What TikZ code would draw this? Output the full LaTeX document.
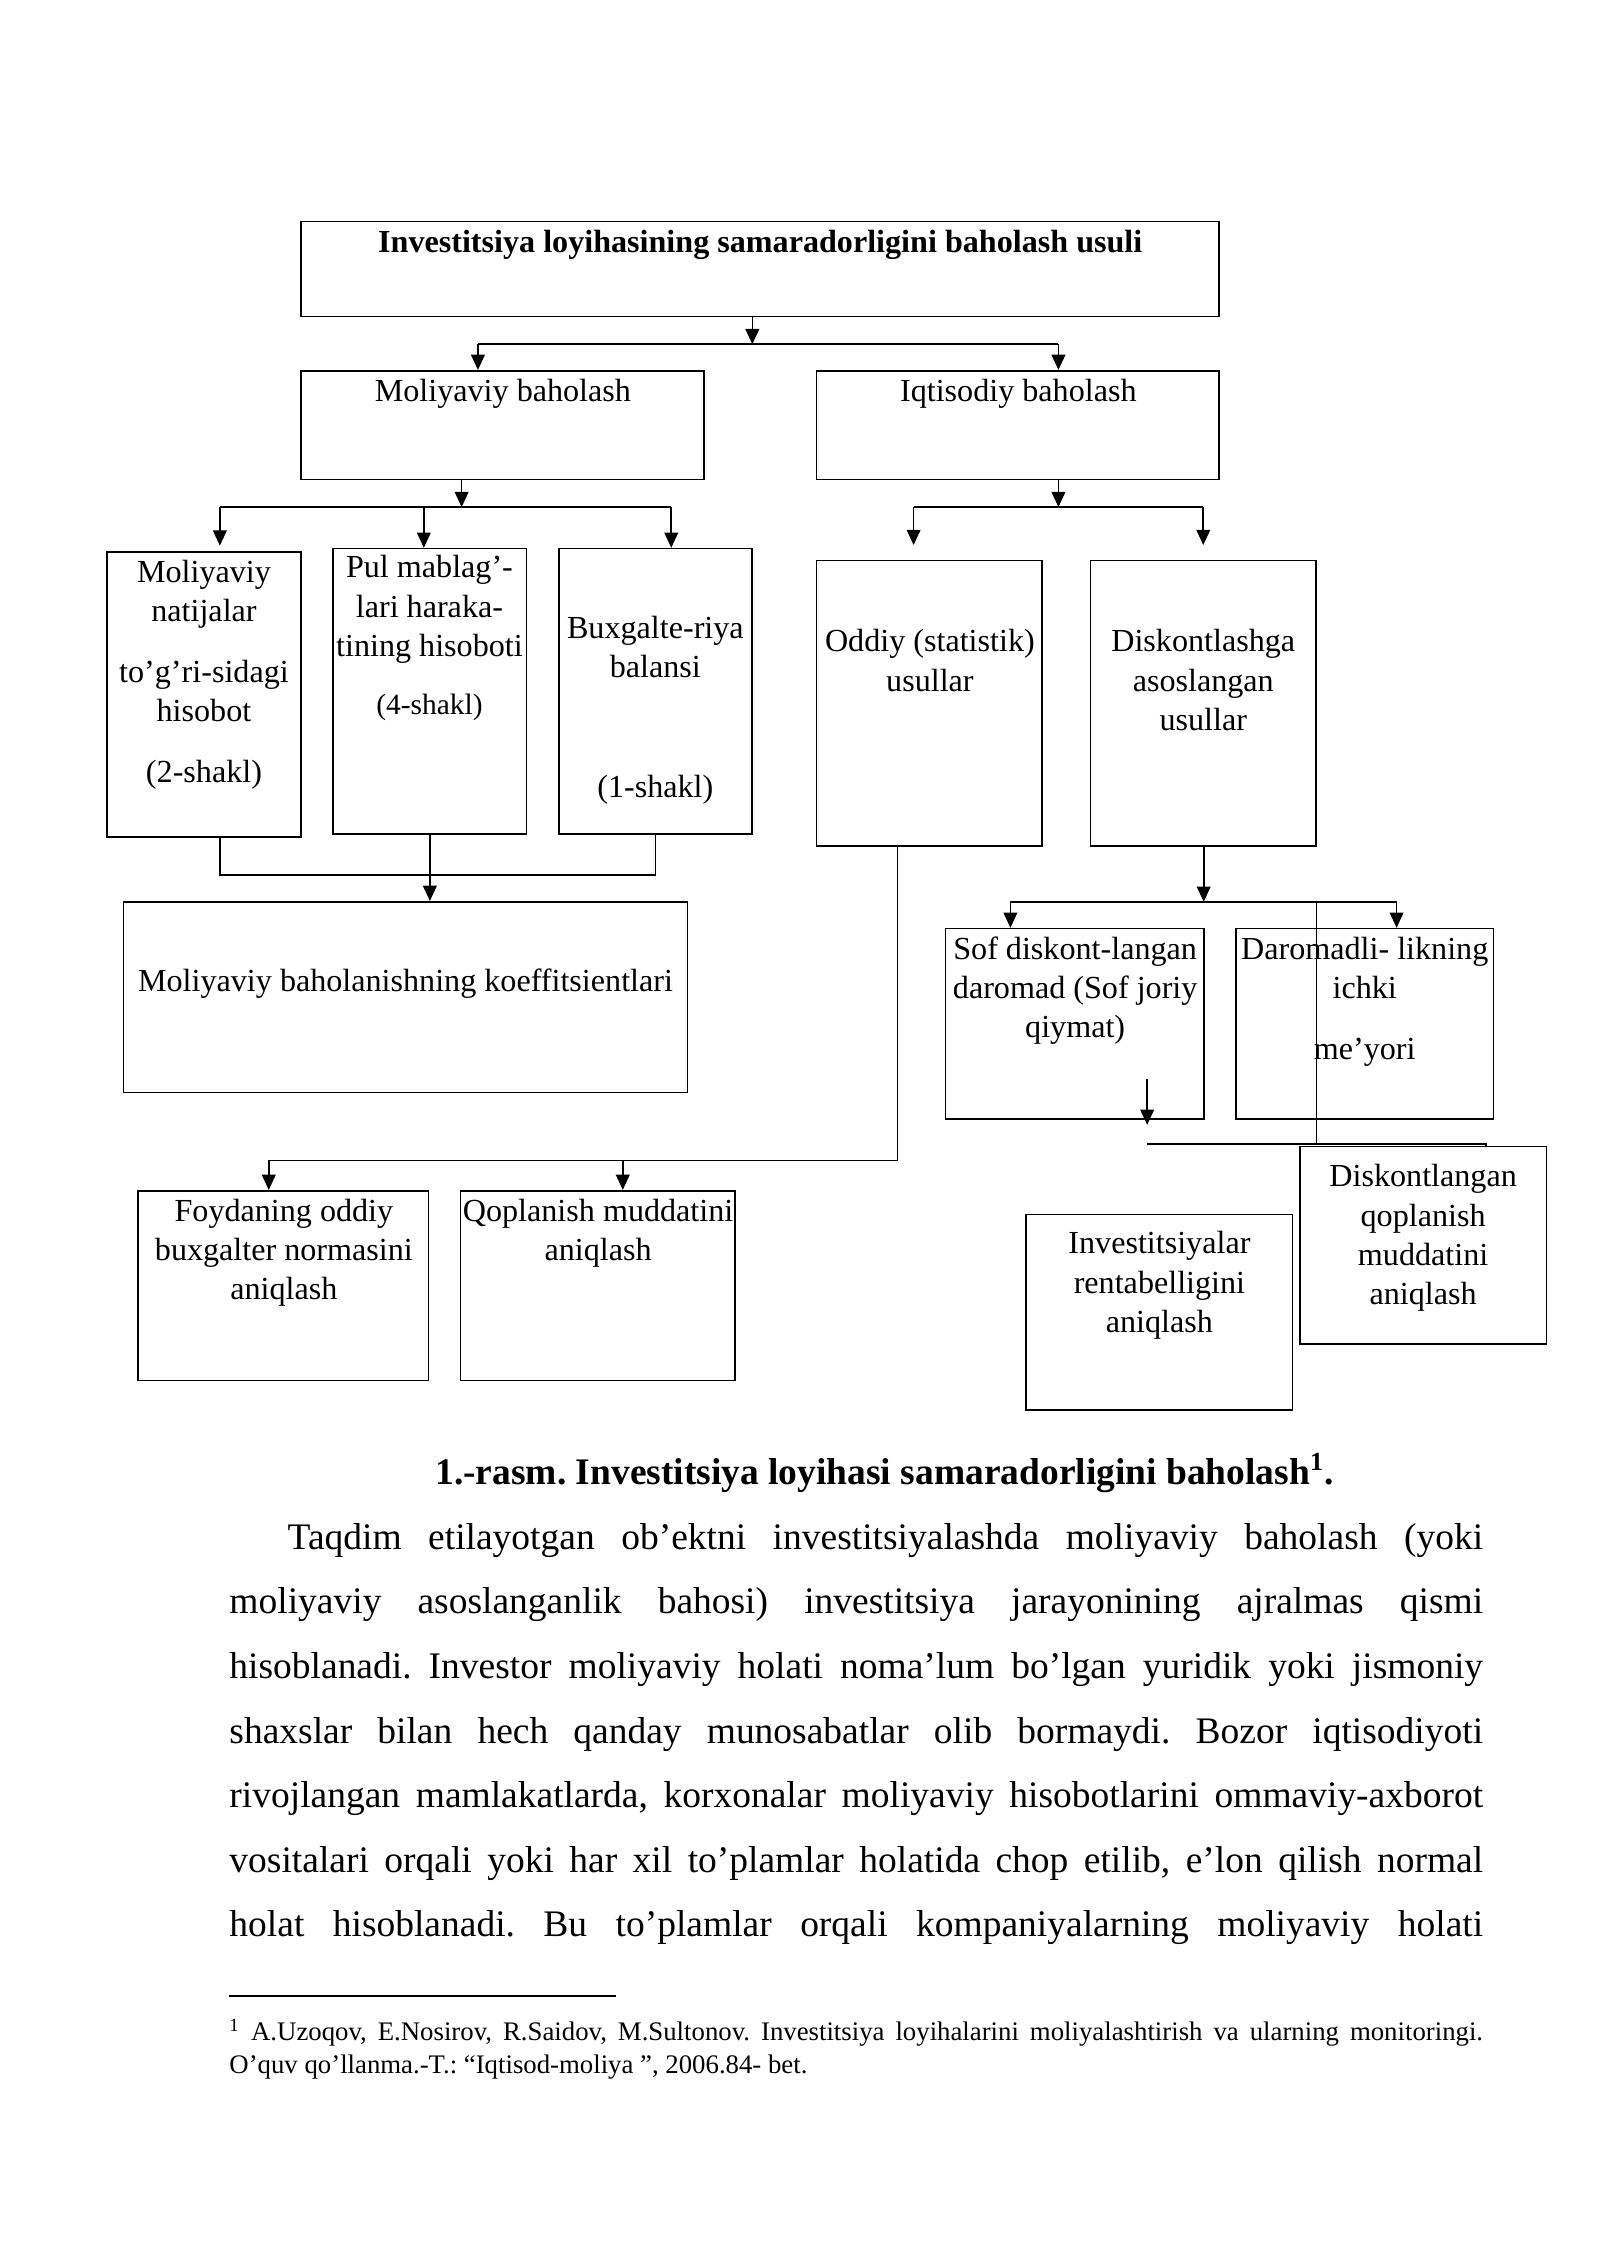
\documentclass[tikz,border=0pt]{standalone}
\usepackage{fontspec}
\setmainfont{Liberation Serif}
\usetikzlibrary{arrows.meta,fit}
\frenchspacing
\newcommand\fl{\rule{0pt}{10pt}}

\begin{document}
\begin{tikzpicture}[x=0.018936cm,y=-0.018936cm,>={Triangle[length=2mm,width=1.8mm]},
        line width=0.6pt,
        blk/.style={draw,rectangle,inner sep=0pt},
        lbl/.style={align=center,inner sep=0pt,anchor=north,font=\fontsize{12}{14.7}\selectfont},
        matn/.style={anchor=north west,inner sep=0pt,text width=16.455cm,align=justify}]

    \useasboundingbox (0,0) rectangle (1109,1568);

    \node[blk,fit={(208.6,153.5) (845,219.4)}] (usul) {};
    \node[blk,fit={(208.6,257) (487.9,332.4)}] (moliya) {};
    \node[blk,fit={(565.9,257) (845,332.4)}] (iqtisod) {};
    \node[blk,fit={(74.2,382.5) (208.6,580)}] (natija) {};
    \node[blk,fit={(230.9,380.3) (364.9,578.3)}] (pul) {};
    \node[blk,fit={(387.5,380.3) (521.2,578.3)}] (balans) {};
    \node[blk,fit={(565.9,388.4) (722.5,586.3)}] (oddiy) {};
    \node[blk,fit={(755.8,388.4) (912.4,586.3)}] (diskont) {};
    \node[blk,fit={(85.6,625.1) (476.6,757.2)}] (koeff) {};
    \node[blk,fit={(655.5,643.7) (834.4,775.8)}] (sof) {};
    \node[blk,fit={(856.7,643.7) (1035.3,775.8)}] (daromad) {};
    \node[blk,fit={(95.8,825.4) (297,956.9)}] (foyda) {};
    \node[blk,fit={(319.3,825.4) (509.5,956.9)}] (qoplash) {};
    \node[blk,fit={(711,842) (896,977.3)}] (rentab) {};
    \node[blk,fit={(901,794.8) (1072,931.7)}] (dqoplash) {};

    \node[lbl] (usul-t) at (527,155.6) {\fl\textbf{Investitsiya loyihasining samaradorligini baholash usuli}};
    \node[lbl] (moliya-t) at (348.6,259.3) {\fl Moliyaviy baholash};
    \node[lbl] (iqtisod-t) at (705.9,259.3) {\fl Iqtisodiy baholash};
    \node[lbl] (natija-t) at (141.4,384.6) {\fl Moliyaviy\\natijalar\\[8pt]to’g’ri-sidagi\\hisobot\\[8pt](2-shakl)};
    \node[lbl] (pul-t) at (297.7,381.4) {\fl Pul mablag’-\\lari haraka-\\tining hisoboti\\[7pt]{\fontsize{11}{13}\selectfont (4-shakl)}};
    \node[lbl] (balans-t) at (454.3,423.3) {\fl Buxgalte-riya\\balansi\\[30pt](1-shakl)};
    \node[lbl] (oddiy-t) at (644.6,432.6) {\fl Oddiy (statistik)\\usullar};
    \node[lbl] (diskont-t) at (834.1,432.6) {\fl Diskontlashga\\asoslangan\\usullar};
    \node[lbl] (koeff-t) at (281.1,668.3) {\fl Moliyaviy baholanishning koeffitsientlari};
    \node[lbl] (sof-t) at (745.3,645.7) {\fl Sof diskont-langan\\daromad (Sof joriy\\qiymat)};
    \node[lbl] (daromad-t) at (946,645.7) {\fl Daromadli- likning\\ichki\\[8pt]me’yori};
    \node[lbl] (foyda-t) at (196.8,827.4) {\fl Foydaning oddiy\\buxgalter normasini\\aniqlash};
    \node[lbl] (qoplash-t) at (414.6,827.4) {\fl Qoplanish muddatini\\aniqlash};
    \node[lbl] (rentab-t) at (803.7,849.9) {\fl Investitsiyalar\\rentabelligini\\aniqlash};
    \node[lbl] (dqoplash-t) at (986.5,803.5) {\fl Diskontlangan\\qoplanish\\muddatini\\aniqlash};

    \coordinate (s1) at (521.5,238.6);
    \coordinate (s1l) at (331.3,238.6);
    \coordinate (s1r) at (733.7,238.6);
    \draw[->] (usul.south -| s1) -- (s1);
    \draw (s1l) -- (s1r);
    \draw[->] (s1l) -- (s1l |- moliya.north);
    \draw[->] (s1r) -- (s1r |- iqtisod.north);

    \coordinate (s2) at (320,351.5);
    \coordinate (s2l) at (152.4,351.5);
    \coordinate (s2m) at (293.8,351.5);
    \coordinate (s2r) at (465.3,351.5);
    \draw[->] (moliya.south -| s2) -- (s2);
    \draw (s2l) -- (s2r);
    \draw[->,shorten >=0.07cm] (s2l) -- (s2l |- natija.north);
    \draw[->] (s2m) -- (s2m |- pul.north);
    \draw[->] (s2r) -- (s2r |- balans.north);

    \coordinate (s3) at (733.7,351.5);
    \coordinate (s3l) at (633.3,351.5);
    \coordinate (s3r) at (834.1,351.5);
    \draw[->] (iqtisod.south -| s3) -- (s3);
    \draw (s3l) -- (s3r);
    \draw[->,shorten >=0.19cm] (s3l) -- (s3l |- oddiy.north);
    \draw[->,shorten >=0.19cm] (s3r) -- (s3r |- diskont.north);

    \coordinate (s4l) at (152.4,606.5);
    \coordinate (s4m) at (298,606.5);
    \coordinate (s4r) at (454.3,606.5);
    \draw (natija.south -| s4l) -- (s4l) -- (s4r) -- (balans.south -| s4r);
    \draw[->] (pul.south -| s4m) -- (s4m |- koeff.north);

    \coordinate (s5) at (622,804.4);
    \coordinate (s5l) at (186.3,804.4);
    \coordinate (s5m) at (431.7,804.4);
    \draw (oddiy.south -| s5) -- (s5) -- (s5l);
    \draw[->] (s5l) -- (s5l |- foyda.north);
    \draw[->] (s5m) -- (s5m |- qoplash.north);

    \coordinate (s6) at (834.4,625.1);
    \coordinate (s6l) at (700.4,625.1);
    \coordinate (s6r) at (968.1,625.1);
    \coordinate (s7) at (912.6,625.1);
    \draw[->] (diskont.south -| s6) -- (s6);
    \draw (s6l) -- (s6r);
    \draw[->] (s6l) -- (s6l |- sof.north);
    \draw[->] (s6r) -- (s6r |- daromad.north);

    \coordinate (s8l) at (795.2,793);
    \coordinate (s8r) at (1030,793);
    \coordinate (a1) at (795.2,747.9);
    \coordinate (a1e) at (795.2,779.7);
    \draw (s7) -- (s7 |- s8l);
    \draw (s8l) -- (s8r) -- (s8r |- dqoplash.north);
    \draw[->] (a1) -- (a1e);

    \node[anchor=base,inner sep=0pt,font=\fontsize{14}{16}\selectfont\bfseries] (rasm) at (613.2,1029.1)
        {1.-rasm. Investitsiya loyihasi samaradorligini baholash\textsuperscript{1}.};

    \node[matn,font=\fontsize{14}{24.1}\selectfont] (matn) at (158.5,1047.5)
        {\parindent=0pt\tolerance=10000\hyphenpenalty=10000\exhyphenpenalty=10000
        \rule{0pt}{14pt}\hspace*{0.765cm}Taqdim etilayotgan ob’ektni investitsiyalashda moliyaviy baholash (yoki\linebreak
        moliyaviy asoslanganlik bahosi) investitsiya jarayonining ajralmas qismi\linebreak
        hisoblanadi. Investor moliyaviy holati noma’lum bo’lgan yuridik yoki jismoniy\linebreak
        shaxslar bilan hech qanday munosabatlar olib bormaydi. Bozor iqtisodiyoti\linebreak
        rivojlangan mamlakatlarda, korxonalar moliyaviy hisobotlarini ommaviy-axborot\linebreak
        vositalari orqali yoki har xil to’plamlar holatida chop etilib, e’lon qilish normal\linebreak
        holat hisoblanadi. Bu to’plamlar orqali kompaniyalarning moliyaviy holati\linebreak\mbox{}};

    \draw[line width=0.6pt] (158.5,1383.8) -- (427,1383.8);

    \node[matn,font=\fontsize{10}{12.3}\selectfont] (izoh) at (158.5,1395.6)
        {\parindent=0pt\tolerance=10000\hyphenpenalty=10000
        \fl\textsuperscript{1} A.Uzoqov, E.Nosirov, R.Saidov, M.Sultonov. Investitsiya loyihalarini moliyalashtirish va ularning monitoringi.\linebreak
        O’quv qo’llanma.-T.: “Iqtisod-moliya ”, 2006.84- bet.};

\end{tikzpicture}
\end{document}
